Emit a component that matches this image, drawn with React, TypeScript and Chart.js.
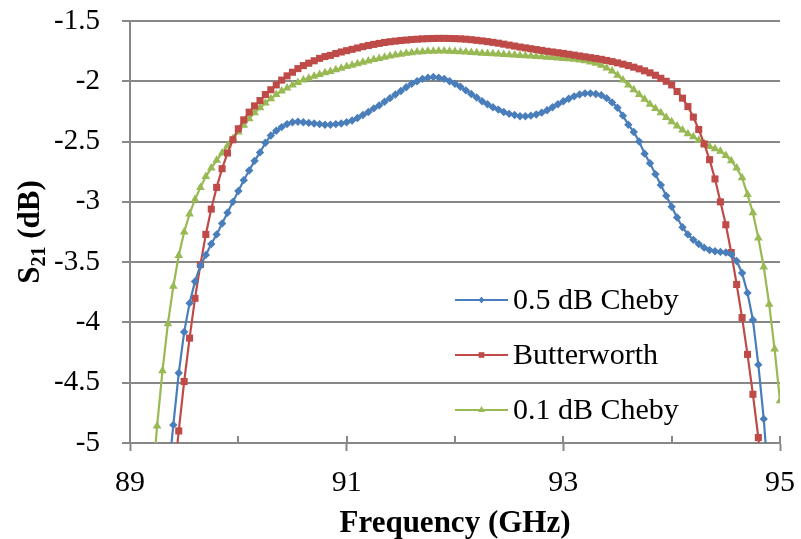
import React, { useEffect, useRef } from "react";
import { Chart, registerables } from "chart.js";

Chart.register(...registerables);

// Frequency sweep (GHz)
const FREQ = [
  89.2, 89.25, 89.3, 89.35, 89.4, 89.45, 89.5, 89.55, 89.6, 89.65,
  89.7, 89.75, 89.8, 89.85, 89.9, 89.95, 90.0, 90.05, 90.1, 90.15,
  90.2, 90.25, 90.3, 90.35, 90.4, 90.45, 90.5, 90.55, 90.6, 90.65,
  90.7, 90.75, 90.8, 90.85, 90.9, 90.95, 91.0, 91.05, 91.1, 91.15,
  91.2, 91.25, 91.3, 91.35, 91.4, 91.45, 91.5, 91.55, 91.6, 91.65,
  91.7, 91.75, 91.8, 91.85, 91.9, 91.95, 92.0, 92.05, 92.1, 92.15,
  92.2, 92.25, 92.3, 92.35, 92.4, 92.45, 92.5, 92.55, 92.6, 92.65,
  92.7, 92.75, 92.8, 92.85, 92.9, 92.95, 93.0, 93.05, 93.1, 93.15,
  93.2, 93.25, 93.3, 93.35, 93.4, 93.45, 93.5, 93.55, 93.6, 93.65,
  93.7, 93.75, 93.8, 93.85, 93.9, 93.95, 94.0, 94.05, 94.1, 94.15,
  94.2, 94.25, 94.3, 94.35, 94.4, 94.45, 94.5, 94.55, 94.6, 94.65,
  94.7, 94.75, 94.8, 94.85, 94.9, 94.95, 95.0,
];

// S21 (dB) – 0.5 dB Chebyshev
const CHEBY_05 = [
  null, null, null, -5.3, -4.85, -4.42, -4.08, -3.84, -3.66, -3.53,
  -3.44, -3.35, -3.27, -3.18, -3.09, -3.0, -2.91, -2.82, -2.74, -2.66,
  -2.59, -2.51, -2.45, -2.41, -2.38, -2.355, -2.34, -2.335, -2.34, -2.345,
  -2.35, -2.355, -2.36, -2.36, -2.355, -2.35, -2.34, -2.325, -2.305, -2.28,
  -2.255, -2.225, -2.2, -2.17, -2.14, -2.11, -2.08, -2.05, -2.02, -2.0,
  -1.98, -1.97, -1.965, -1.97, -1.98, -2.0, -2.02, -2.045, -2.075, -2.105,
  -2.135, -2.165, -2.19, -2.215, -2.235, -2.255, -2.27, -2.28, -2.29, -2.29,
  -2.285, -2.275, -2.26, -2.24, -2.215, -2.19, -2.165, -2.145, -2.125, -2.11,
  -2.1, -2.1, -2.105, -2.115, -2.14, -2.175, -2.22, -2.285, -2.36, -2.42,
  -2.5, -2.6, -2.68, -2.77, -2.86, -2.95, -3.04, -3.13, -3.21, -3.27,
  -3.315, -3.35, -3.38, -3.4, -3.41, -3.415, -3.42, -3.435, -3.49, -3.59,
  -3.755, -3.98, -4.35, -4.8, -5.4, null, null,
];

// S21 (dB) – Butterworth
const BUTTERWORTH = [
  null, null, null, null, -5.35, -4.9, -4.49, -4.13, -3.8, -3.52,
  -3.27, -3.06, -2.88, -2.725, -2.595, -2.485, -2.394, -2.32, -2.256, -2.204,
  -2.16, -2.11, -2.07, -2.03, -1.99, -1.955, -1.925, -1.895, -1.87, -1.85,
  -1.83, -1.81, -1.795, -1.785, -1.77, -1.757, -1.746, -1.735, -1.724, -1.713,
  -1.703, -1.694, -1.686, -1.678, -1.672, -1.667, -1.662, -1.658, -1.654, -1.651,
  -1.648, -1.646, -1.645, -1.644, -1.644, -1.645, -1.646, -1.648, -1.651, -1.655,
  -1.66, -1.665, -1.671, -1.677, -1.684, -1.692, -1.7, -1.708, -1.716, -1.723,
  -1.73, -1.737, -1.744, -1.751, -1.757, -1.763, -1.769, -1.776, -1.783, -1.79,
  -1.797, -1.804, -1.811, -1.818, -1.827, -1.837, -1.847, -1.858, -1.87, -1.883,
  -1.897, -1.913, -1.93, -1.95, -1.975, -2.0, -2.03, -2.085, -2.14, -2.21,
  -2.297, -2.4, -2.52, -2.65, -2.81, -3.0, -3.19, -3.42, -3.685, -3.96,
  -4.265, -4.596, -4.955, -5.4, null, null, null,
];

// S21 (dB) – 0.1 dB Chebyshev
const CHEBY_01 = [
  -5.4, -4.86, -4.4, -4.01, -3.7, -3.445, -3.25, -3.1, -2.98, -2.88,
  -2.79, -2.72, -2.655, -2.595, -2.535, -2.475, -2.42, -2.365, -2.31, -2.26,
  -2.22, -2.18, -2.145, -2.11, -2.08, -2.055, -2.03, -2.01, -1.99, -1.975,
  -1.958, -1.943, -1.93, -1.918, -1.905, -1.892, -1.878, -1.866, -1.854, -1.842,
  -1.831, -1.82, -1.81, -1.8, -1.79, -1.782, -1.775, -1.768, -1.763, -1.758,
  -1.754, -1.751, -1.75, -1.749, -1.749, -1.75, -1.752, -1.755, -1.758, -1.761,
  -1.764, -1.767, -1.77, -1.772, -1.774, -1.777, -1.78, -1.783, -1.786, -1.789,
  -1.791, -1.794, -1.797, -1.8, -1.803, -1.806, -1.81, -1.814, -1.818, -1.823,
  -1.83, -1.84, -1.85, -1.868, -1.89, -1.915, -1.95, -1.99, -2.03, -2.07,
  -2.11, -2.15, -2.19, -2.225, -2.26, -2.3, -2.335, -2.37, -2.405, -2.435,
  -2.46, -2.49, -2.515, -2.54, -2.56, -2.58, -2.615, -2.66, -2.72, -2.8,
  -2.94, -3.09, -3.3, -3.54, -3.85, -4.22, -4.65,
];

const SERIES_NAMES = ["0.5 dB Cheby", "Butterworth", "0.1 dB Cheby"];
const X_TICKS = [89, 90, 91, 92, 93, 94, 95];
const X_LABELED = [89, 91, 93, 95];

const FONT = '"Liberation Serif", "Times New Roman", serif';
const GRID = "#878787";
const COLORS = ["#4A7EBB", "#BE4B48", "#98B954"];
const MARKERS = ["rectRot", "rect", "triangle"];
const RADII = [4.2, 5, 5];

function drawMarker(ctx: CanvasRenderingContext2D, kind: string, x: number, y: number, r: number) {
  ctx.beginPath();
  if (kind === "rect") {
    const s = Math.SQRT1_2 * r;
    ctx.rect(x - s, y - s, 2 * s, 2 * s);
  } else if (kind === "rectRot") {
    ctx.moveTo(x, y - r);
    ctx.lineTo(x + r, y);
    ctx.lineTo(x, y + r);
    ctx.lineTo(x - r, y);
    ctx.closePath();
  } else {
    const w = r * Math.cos(Math.PI / 6);
    ctx.moveTo(x, y - r);
    ctx.lineTo(x + w, y + r / 2);
    ctx.lineTo(x - w, y + r / 2);
    ctx.closePath();
  }
  ctx.fill();
}

const decor = {
  id: "decor",
  beforeDatasetsDraw(chart: any) {
    const { ctx, chartArea, scales } = chart;
    ctx.save();
    ctx.strokeStyle = GRID;
    ctx.lineWidth = 2;
    for (const v of X_TICKS) {
      const x = Math.round(scales.x.getPixelForValue(v));
      ctx.beginPath();
      ctx.moveTo(x, chartArea.bottom - 7);
      ctx.lineTo(x, chartArea.bottom);
      ctx.stroke();
    }
    ctx.restore();
  },
  afterDraw(chart: any) {
    const { ctx, chartArea } = chart;
    ctx.save();
    // Legend
    const rows = [300, 355, 410];
    SERIES_NAMES.forEach((name, i) => {
      const y = rows[i];
      ctx.strokeStyle = COLORS[i];
      ctx.fillStyle = COLORS[i];
      ctx.lineWidth = 2;
      ctx.beginPath();
      ctx.moveTo(455, y);
      ctx.lineTo(508, y);
      ctx.stroke();
      drawMarker(ctx, MARKERS[i], 481.5, y, RADII[i] - 1);
      ctx.fillStyle = "#000";
      ctx.font = "30px " + FONT;
      ctx.textAlign = "left";
      ctx.textBaseline = "middle";
      ctx.fillText(name, 513, y + 1);
    });

    // X axis title
    ctx.fillStyle = "#000";
    ctx.font = "bold 31px " + FONT;
    ctx.textAlign = "center";
    ctx.textBaseline = "alphabetic";
    ctx.fillText("Frequency (GHz)", (chartArea.left + chartArea.right) / 2, 532);

    // Y axis title with subscript
    const cy = (chartArea.top + chartArea.bottom) / 2;
    ctx.translate(39, cy);
    ctx.rotate(-Math.PI / 2);
    ctx.textAlign = "left";
    const big = "bold 31px " + FONT;
    const small = "bold 20px " + FONT;
    ctx.font = big;
    const wS = ctx.measureText("S").width;
    const wRest = ctx.measureText(" (dB)").width;
    ctx.font = small;
    const wSub = ctx.measureText("21").width;
    const total = wS + wSub + wRest;
    const x0 = -total / 2;
    ctx.font = big;
    ctx.fillText("S", x0, 0);
    ctx.font = small;
    ctx.fillText("21", x0 + wS, 6);
    ctx.font = big;
    ctx.fillText(" (dB)", x0 + wS + wSub, 0);
    ctx.restore();
  },
};

export default function App() {
  const ref = useRef<HTMLCanvasElement>(null);

  useEffect(() => {
    document.body.style.margin = "0";
    const toPts = (arr: (number | null)[]) => FREQ.map((f, i) => ({ x: f, y: arr[i] }));
    const seriesData = [CHEBY_05, BUTTERWORTH, CHEBY_01];

    const chart = new Chart(ref.current as HTMLCanvasElement, {
      type: "line",
      data: {
        datasets: seriesData.map((arr, i) => ({
          label: SERIES_NAMES[i],
          data: toPts(arr) as any,
          borderColor: COLORS[i],
          backgroundColor: COLORS[i],
          borderWidth: 2.2,
          pointStyle: MARKERS[i] as any,
          pointRadius: RADII[i],
          pointBorderWidth: 0,
          pointBackgroundColor: COLORS[i],
          pointBorderColor: COLORS[i],
          tension: 0,
          spanGaps: false,
        })),
      },
      options: {
        responsive: false,
        animation: false,
        events: [],
        layout: { padding: { top: 21, right: 21, left: 0, bottom: 0 } },
        plugins: {
          legend: { display: false },
          tooltip: { enabled: false },
          title: { display: false },
        },
        scales: {
          x: {
            type: "linear",
            min: 89,
            max: 95,
            afterBuildTicks: (s: any) => {
              s.ticks = X_TICKS.map((v) => ({ value: v }));
            },
            afterFit: (s: any) => {
              s.height = 96;
              s.paddingLeft = 0;
              s.paddingRight = 0;
            },
            ticks: {
              autoSkip: false,
              maxRotation: 0,
              padding: 14,
              color: "#000",
              font: { family: FONT, size: 30 },
              callback: (v: any) => (X_LABELED.includes(Number(v)) ? String(v) : ""),
            },
            grid: {
              drawOnChartArea: false,
              drawTicks: true,
              tickLength: 8,
              tickWidth: 2,
              tickColor: (c: any) =>
                c.tick && X_LABELED.includes(c.tick.value) ? GRID : "rgba(0,0,0,0)",
            },
            border: { display: true, color: GRID, width: 2 },
          },
          y: {
            type: "linear",
            min: -5,
            max: -1.5,
            afterFit: (s: any) => {
              s.width = 130;
              s.paddingTop = 0;
              s.paddingBottom = 0;
            },
            ticks: {
              stepSize: 0.5,
              padding: 22,
              color: "#000",
              font: { family: FONT, size: 29 },
              callback: (v: any) => String(Math.round(Number(v) * 10) / 10),
            },
            grid: {
              color: GRID,
              lineWidth: 2,
              tickLength: 8,
              tickColor: GRID,
              tickWidth: 2,
            },
            border: { display: true, color: GRID, width: 2 },
          },
        },
      },
      plugins: [decor],
    });
    return () => chart.destroy();
  }, []);

  return (
    <div style={{ width: 801, height: 539 }}>
      <canvas ref={ref} width={801} height={539} style={{ display: "block", width: 801, height: 539 }} />
    </div>
  );
}
